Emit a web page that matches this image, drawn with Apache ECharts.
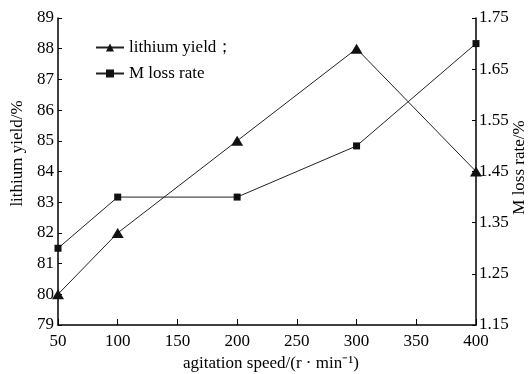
<!DOCTYPE html>
<html>
<head>
<meta charset="utf-8">
<script src="https://cdn.jsdelivr.net/npm/echarts@6/dist/echarts.min.js"></script>
<style>
  html, body { margin: 0; padding: 0; background: #fff; }
  #chart { width: 529px; height: 374px; }
</style>
</head>
<body>
<div id="chart"></div>
<script>
const speeds = [50, 100, 200, 300, 400]
const lithiumYield = [80, 82, 85, 88, 84]
const lossRate = [1.30, 1.40, 1.40, 1.50, 1.70]

const font = 'Liberation Serif'
const chart = echarts.init(document.getElementById('chart'))

chart.setOption({
  animation: false,
  textStyle: { fontFamily: font, color: '#000' },
  grid: { left: 58, right: 53, top: 18, bottom: 49, outerBoundsMode: 'none', containLabel: false },
  legend: {
    orient: 'vertical',
    left: 90,
    top: 34,
    itemWidth: 28,
    itemHeight: 10,
    itemGap: 9,
    textStyle: { fontFamily: font, fontSize: 17, color: '#000' },
    data: ['lithium yield；', 'M loss rate']
  },
  xAxis: {
    type: 'value',
    min: 50,
    max: 400,
    interval: 50,
    name: 'agitation speed/(r · min⁻¹)',
    nameLocation: 'middle',
    nameGap: 29,
    nameTextStyle: { fontFamily: font, fontSize: 17, color: '#000', padding: [0, 0, 0, 8] },
    axisLine: { lineStyle: { color: '#000', width: 1.5 } },
    axisTick: { inside: true, length: 6, lineStyle: { color: '#000' } },
    axisLabel: { fontFamily: font, fontSize: 17, color: '#000', margin: 8 },
    splitLine: { show: false }
  },
  yAxis: [{
    type: 'value',
    min: 79,
    max: 89,
    interval: 1,
    name: 'lithium yield/%',
    nameLocation: 'middle',
    nameRotate: 90,
    nameGap: 32,
    nameTextStyle: { fontFamily: font, fontSize: 17, color: '#000', padding: [0, 0, 0, 36] },
    axisLine: { show: true, lineStyle: { color: '#000', width: 1.5 } },
    axisTick: { show: true, inside: true, length: 4, lineStyle: { color: '#000' } },
    axisLabel: { fontFamily: font, fontSize: 17, color: '#000', margin: 4 },
    splitLine: { show: false }
  }, {
    type: 'value',
    position: 'right',
    min: 1.15,
    max: 1.75,
    interval: 0.1,
    name: 'M loss rate/%',
    nameLocation: 'middle',
    nameRotate: 90,
    nameGap: 35,
    nameMoveOverlap: false,
    nameTextStyle: { fontFamily: font, fontSize: 17, color: '#000', padding: [0, 0, 0, 8] },
    axisLine: { show: true, lineStyle: { color: '#000', width: 1.5 } },
    axisTick: { show: true, inside: true, length: 4, lineStyle: { color: '#000' } },
    axisLabel: {
      fontFamily: font, fontSize: 17, color: '#000', margin: 3,
      formatter: v => v.toFixed(2)
    },
    splitLine: { show: false }
  }],
  series: [{
    name: 'lithium yield；',
    type: 'line',
    yAxisIndex: 0,
    symbol: 'triangle',
    symbolSize: [12, 10],
    itemStyle: { color: '#111' },
    lineStyle: { color: '#222', width: 1 },
    data: speeds.map((s, i) => [s, lithiumYield[i]])
  }, {
    name: 'M loss rate',
    type: 'line',
    yAxisIndex: 1,
    symbol: 'rect',
    symbolSize: 7,
    itemStyle: { color: '#111' },
    lineStyle: { color: '#222', width: 1 },
    data: speeds.map((s, i) => [s, lossRate[i]])
  }]
})
</script>
</body>
</html>
